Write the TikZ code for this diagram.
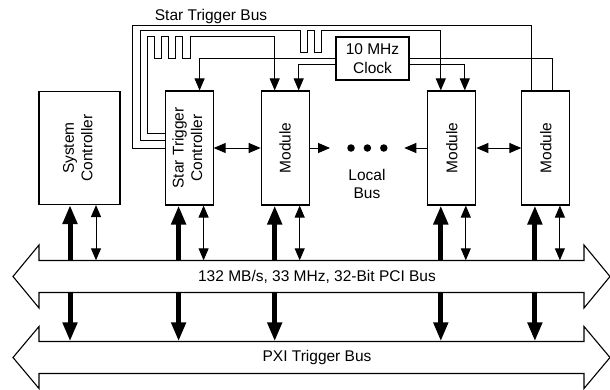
\documentclass[tikz,border=0pt]{standalone}
\usepackage{fontspec}
\setmainfont{Liberation Sans}
\usepackage{graphicx}
\usepackage{tikz}
\usetikzlibrary{positioning,calc,arrows.meta}

\begin{document}
\begin{tikzpicture}[x=1pt, y=1pt, every node/.style={font=\fontsize{15.5}{18.5}\selectfont}, lbox/.style = {draw, line width=1.1pt, minimum width=48pt, minimum height=114pt, inner sep=0pt}, wire/.style={line width=1pt}, oneway/.style={-{Triangle[length=12pt,width=10pt]}}, twoway/.style={{Triangle[length=12pt,width=10pt]}-{Triangle[length=12pt,width=10pt]}}, heavy/.style={line width=5pt, -{Triangle[length=19pt,width=14pt]}}, blob/.style={circle, fill, inner sep=0pt, minimum size=7.5pt}, every edge/.append style={line width=1pt}]

\useasboundingbox (0,0) rectangle (610,389);

\node[lbox, minimum width=81pt, minimum height=113pt] (sc) at (79.5,241) {\rotatebox{90}{\begin{tabular}{@{}c@{}}System\\Controller\end{tabular}}};
\node[lbox] (stc) [right=44pt of sc] {\rotatebox{90}{\begin{tabular}{@{}c@{}}Star Trigger\\Controller\end{tabular}}};
\node[lbox] (mod1) [right=47pt of stc] {\rotatebox{90}{Module}};
\node[lbox] (mod2) [right=117.5pt of mod1] {\rotatebox{90}{Module}};
\node[lbox] (mod3) [right=45pt of mod2] {\rotatebox{90}{Module}};

\node[draw, line width=1.1pt, minimum width=73pt, minimum height=43pt, inner sep=0pt, align=center] (clk) at (372.5,330.5) {10 MHz\\Clock};
\node[anchor=base] (stb) at (211,368) {Star Trigger Bus};

\node[blob] (d1) at (351,241) {};
\node[blob] (d2) [right=8.5pt of d1] {};
\node[blob] (d3) [right=8.5pt of d2] {};
\node[align=center] (lbus) at (367,205) {Local\\Bus};

\node[minimum height=32pt, inner sep=0pt] (pci) at (317,112.5) {132 MB/s, 33 MHz, 32-Bit PCI Bus};
\node[minimum height=32pt, inner sep=0pt] (pxi) at (317,31.5) {PXI Trigger Bus};

\draw[line width=1.1pt] (39,128.5) -- (584,128.5) -- (584,144) -- (610,112.5) -- (584,81) -- (584,96.5) -- (39,96.5) -- (39,81) -- (13,112.5) -- (39,144) -- cycle;
\draw[line width=1.1pt] (39,47.5) -- (584,47.5) -- (584,62.5) -- (610,31.5) -- (584,0.5) -- (584,15.5) -- (39,15.5) -- (39,0.5) -- (13,31.5) -- (39,62.5) -- cycle;

\draw[wire] (stc.west) -| (132,363) -| ([xshift=-14pt]mod3.north);
\draw[wire, oneway] ([yshift=7.5pt]stc.west) -| (140,358) -- (300,358) -- ++(0,-22) -- ++(7,0) -- ++(0,22) -- ++(7,0) -- ++(0,-22) -- ++(7,0) -- ++(0,22) -| ([xshift=-11pt]mod2.north);
\draw[wire, oneway] ([yshift=15pt]stc.west) -| (147.5,352.5) -- ++(7,0) -- ++(0,-22) -- ++(7,0) -- ++(0,22) -- ++(7,0) -- ++(0,-22) -- ++(7,0) -- ++(0,22) -- ++(7,0) -- ++(0,-22) -- ++(8,0) -- ++(0,22) -| ([xshift=-10.5pt]mod1.north);

\draw[wire, oneway] (clk.west) -| ([xshift=10.5pt]stc.north);
\draw[wire, oneway] ([yshift=-6pt]clk.west) -| ([xshift=13.5pt]mod1.north);
\draw[wire] (clk.east) -| ([xshift=7pt]mod3.north);
\draw[wire, oneway] ([yshift=-6pt]clk.east) -| ([xshift=13pt]mod2.north);

\path
    (stc) edge[twoway] (mod1)
    (mod1.east) edge[oneway] ([xshift=-17pt]d1.west)
    (mod2.west) edge[oneway] ([xshift=16.5pt]d3.east)
    (mod2) edge[twoway] (mod3);

\path
    ([xshift=-9.5pt]sc.south |- pci.north) edge[heavy] ([xshift=-9.5pt]sc.south)
    ([xshift=-9.5pt]sc.south |- pci.south) edge[heavy] ([xshift=-9.5pt]sc.south |- pxi.north)
    ([xshift=16.5pt]sc.south) edge[twoway] ([xshift=16.5pt]sc.south |- pci.north)
    ([xshift=-10.5pt]stc.south |- pci.north) edge[heavy] ([xshift=-10.5pt]stc.south)
    ([xshift=-10.5pt]stc.south |- pci.south) edge[heavy] ([xshift=-10.5pt]stc.south |- pxi.north)
    ([xshift=14.5pt]stc.south) edge[twoway] ([xshift=14.5pt]stc.south |- pci.north)
    ([xshift=-10.5pt]mod1.south |- pci.north) edge[heavy] ([xshift=-10.5pt]mod1.south)
    ([xshift=-10.5pt]mod1.south |- pci.south) edge[heavy] ([xshift=-10.5pt]mod1.south |- pxi.north)
    ([xshift=14.5pt]mod1.south) edge[twoway] ([xshift=14.5pt]mod1.south |- pci.north)
    ([xshift=-11pt]mod2.south |- pci.north) edge[heavy] ([xshift=-11pt]mod2.south)
    ([xshift=-11pt]mod2.south |- pci.south) edge[heavy] ([xshift=-11pt]mod2.south |- pxi.north)
    ([xshift=14pt]mod2.south) edge[twoway] ([xshift=14pt]mod2.south |- pci.north)
    ([xshift=-11pt]mod3.south |- pci.north) edge[heavy] ([xshift=-11pt]mod3.south)
    ([xshift=-11pt]mod3.south |- pci.south) edge[heavy] ([xshift=-11pt]mod3.south |- pxi.north)
    ([xshift=14pt]mod3.south) edge[twoway] ([xshift=14pt]mod3.south |- pci.north);
\end{tikzpicture}
\end{document}
